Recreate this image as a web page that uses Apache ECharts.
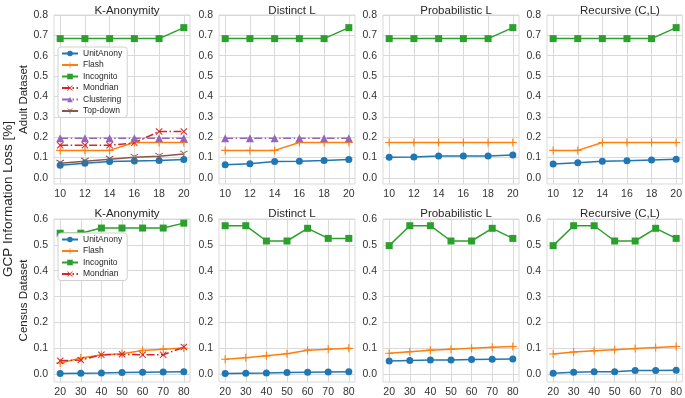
<!DOCTYPE html>
<html>
<head>
<meta charset="utf-8">
<script src="https://cdn.jsdelivr.net/npm/echarts@6/dist/echarts.min.js"></script>
<style>
html, body { margin: 0; padding: 0; background: #fff; }
#chart { width: 685px; height: 398px; }
</style>
</head>
<body>
<div id="chart"></div>
<script>
// x values and tick labels
const adultK = [10, 12, 14, 16, 18, 20];
const censusK = [20, 30, 40, 50, 60, 70, 80];
const panelTitles = ['K-Anonymity', 'Distinct L', 'Probabilistic L', 'Recursive (C,L)'];
const adultYTicks = [0, 0.1, 0.2, 0.3, 0.4, 0.5, 0.6, 0.7, 0.8];
const censusYTicks = [0, 0.1, 0.2, 0.3, 0.4, 0.5, 0.6];

// Adult dataset, one row per panel
const adultUnitAnony = [
  [0.062, 0.072, 0.080, 0.083, 0.085, 0.090],
  [0.064, 0.070, 0.080, 0.082, 0.085, 0.090],
  [0.101, 0.103, 0.108, 0.108, 0.107, 0.112],
  [0.068, 0.074, 0.082, 0.084, 0.088, 0.092]
];
const adultFlash = [
  [0.135, 0.135, 0.135, 0.174, 0.174, 0.174],
  [0.135, 0.135, 0.135, 0.174, 0.174, 0.174],
  [0.174, 0.174, 0.174, 0.174, 0.174, 0.174],
  [0.135, 0.135, 0.174, 0.174, 0.174, 0.174]
];
const adultIncognito = [
  [0.684, 0.684, 0.684, 0.684, 0.684, 0.738],
  [0.684, 0.684, 0.684, 0.684, 0.684, 0.738],
  [0.684, 0.684, 0.684, 0.684, 0.684, 0.738],
  [0.684, 0.684, 0.684, 0.684, 0.684, 0.738]
];
const adultMondrian = [0.160, 0.160, 0.160, 0.172, 0.228, 0.228];
// K-Anonymity and Distinct L only
const adultClustering = [
  [0.195, 0.195, 0.195, 0.195, 0.195, 0.195],
  [0.195, 0.195, 0.195, 0.195, 0.195, 0.195]
];
const adultTopDown = [0.072, 0.082, 0.092, 0.101, 0.106, 0.117];

// Census dataset
const censusUnitAnony = [
  [0.003, 0.004, 0.005, 0.007, 0.008, 0.009, 0.010],
  [0.003, 0.004, 0.005, 0.007, 0.008, 0.009, 0.010],
  [0.051, 0.053, 0.055, 0.055, 0.057, 0.058, 0.059],
  [0.004, 0.008, 0.010, 0.010, 0.014, 0.014, 0.015]
];
const censusFlash = [
  [0.043, 0.063, 0.074, 0.079, 0.092, 0.097, 0.101],
  [0.058, 0.064, 0.071, 0.079, 0.093, 0.097, 0.100],
  [0.081, 0.087, 0.093, 0.097, 0.100, 0.104, 0.107],
  [0.078, 0.086, 0.091, 0.095, 0.099, 0.103, 0.107]
];
const censusIncognito = [
  [0.545, 0.545, 0.565, 0.565, 0.565, 0.565, 0.584],
  [0.574, 0.574, 0.515, 0.515, 0.564, 0.525, 0.525],
  [0.497, 0.574, 0.574, 0.515, 0.515, 0.564, 0.525],
  [0.497, 0.574, 0.574, 0.515, 0.515, 0.564, 0.525]
];
const censusMondrian = [0.052, 0.055, 0.075, 0.077, 0.075, 0.075, 0.105];

// look of each method
const plusPath = 'path://M4.3,0h1.4v4.3h4.3v1.4h-4.3v4.3h-1.4v-4.3h-4.3v-1.4h4.3z';
const crossPath = 'path://M1,0L5,4L9,0L10,1L6,5L10,9L9,10L5,6L1,10L0,9L4,5L0,1Z';
const triDownPath = 'path://M4.4,5h1.2v5h-1.2zM5.3,5.5L0.4,2.6L1,1.6L5.9,4.5ZM4.7,5.5L9.6,2.6L9,1.6L4.1,4.5Z';
const styles = {
  UnitAnony: { color: '#1f77b4', symbol: 'circle', size: 7, type: 'solid' },
  Flash: { color: '#ff7f0e', symbol: plusPath, size: 8, type: 'solid' },
  Incognito: { color: '#2ca02c', symbol: 'rect', size: 7, type: 'solid' },
  Mondrian: { color: '#d62728', symbol: crossPath, size: 7, type: [8, 2.5, 1.5, 2.5] },
  Clustering: { color: '#9467bd', symbol: 'triangle', size: 8, type: [8, 2.5, 1.5, 2.5] },
  'Top-down': { color: '#8c564b', symbol: triDownPath, size: 8, type: 'solid' }
};

const lefts = [54, 219, 383, 547];
const panelW = 136;
const rows = [
  { top: 15, height: 169, xs: adultK, xmin: 9.5, xmax: 20.5, ymax: 0.8, yTicks: adultYTicks, name: 'Adult Dataset', titleTop: 0 },
  { top: 219, height: 163, xs: censusK, xmin: 17, xmax: 83, ymax: 0.6, yTicks: censusYTicks, name: 'Census Dataset', titleTop: 203 }
];

const grid = [], xAxis = [], yAxis = [], title = [], series = [];
const gridColor = '#d9d9d9';
const textColor = '#333';

rows.forEach((row, r) => {
  lefts.forEach((left, c) => {
    const idx = r * 4 + c;
    grid.push({ left: left, top: row.top, width: panelW, height: row.height, show: true, borderColor: gridColor, borderWidth: 1 });
    xAxis.push({
      type: 'value', gridIndex: idx, min: row.xmin, max: row.xmax,
      axisLine: { show: false }, axisTick: { show: false, customValues: row.xs },
      axisLabel: { customValues: row.xs, color: textColor, fontSize: 10.5, margin: 5 },
      splitLine: { show: true, lineStyle: { color: gridColor, width: 1 } }
    });
    yAxis.push({
      type: 'value', gridIndex: idx, min: -0.03, max: row.ymax,
      name: c === 0 ? row.name : '', nameLocation: 'middle', nameGap: 23,
      nameTextStyle: { fontSize: 11.5, color: '#262626' },
      axisLine: { show: false }, axisTick: { show: false, customValues: row.yTicks },
      axisLabel: { customValues: row.yTicks, color: textColor, fontSize: 10.5, margin: 6, formatter: v => v.toFixed(1) },
      splitLine: { show: true, lineStyle: { color: gridColor, width: 1 } }
    });
    title.push({
      text: panelTitles[c], left: left + panelW / 2, top: row.titleTop, textAlign: 'center',
      textStyle: { fontSize: 11.5, fontWeight: 'normal', color: '#262626' }
    });
  });
});

function addLine(name, xs, ys, idx) {
  const s = styles[name];
  series.push({
    name: name, type: 'line', xAxisIndex: idx, yAxisIndex: idx,
    data: xs.map((x, i) => [x, ys[i]]),
    symbol: s.symbol, symbolSize: s.size, symbolKeepAspect: true,
    itemStyle: { color: s.color },
    lineStyle: { color: s.color, width: 1.5, type: s.type },
    animation: false
  });
}

for (let c = 0; c < 4; c++) {
  addLine('UnitAnony', adultK, adultUnitAnony[c], c);
  addLine('Flash', adultK, adultFlash[c], c);
  addLine('Incognito', adultK, adultIncognito[c], c);
  if (c === 0) addLine('Mondrian', adultK, adultMondrian, c);
  if (c < 2) addLine('Clustering', adultK, adultClustering[c], c);
  if (c === 0) addLine('Top-down', adultK, adultTopDown, c);
}
for (let c = 0; c < 4; c++) {
  addLine('UnitAnony', censusK, censusUnitAnony[c], 4 + c);
  addLine('Flash', censusK, censusFlash[c], 4 + c);
  addLine('Incognito', censusK, censusIncognito[c], 4 + c);
  if (c === 0) addLine('Mondrian', censusK, censusMondrian, 4 + c);
}

const legendBase = {
  orient: 'vertical', left: 58, itemWidth: 16, itemHeight: 7, itemGap: 2.5,
  padding: [2, 5, 2, 3], backgroundColor: '#fff', borderColor: '#d0d0d0', borderWidth: 1, borderRadius: 3,
  textStyle: { fontSize: 8.5, color: '#262626' }, selectedMode: false
};

const chart = echarts.init(document.getElementById('chart'), null, { renderer: 'canvas' });
chart.setOption({
  backgroundColor: '#fff',
  animation: false,
  title: title,
  grid: grid,
  xAxis: xAxis,
  yAxis: yAxis,
  legend: [
    Object.assign({}, legendBase, { top: 47, data: ['UnitAnony', 'Flash', 'Incognito', 'Mondrian', 'Clustering', 'Top-down'] }),
    Object.assign({}, legendBase, { top: 233, data: ['UnitAnony', 'Flash', 'Incognito', 'Mondrian'] })
  ],
  graphic: [{
    type: 'text', x: 8, y: 199, rotation: Math.PI / 2,
    style: { text: 'GCP Information Loss [%]', fontSize: 13.5, fill: '#262626', align: 'center', verticalAlign: 'middle' }
  }],
  series: series
});
</script>
</body>
</html>
